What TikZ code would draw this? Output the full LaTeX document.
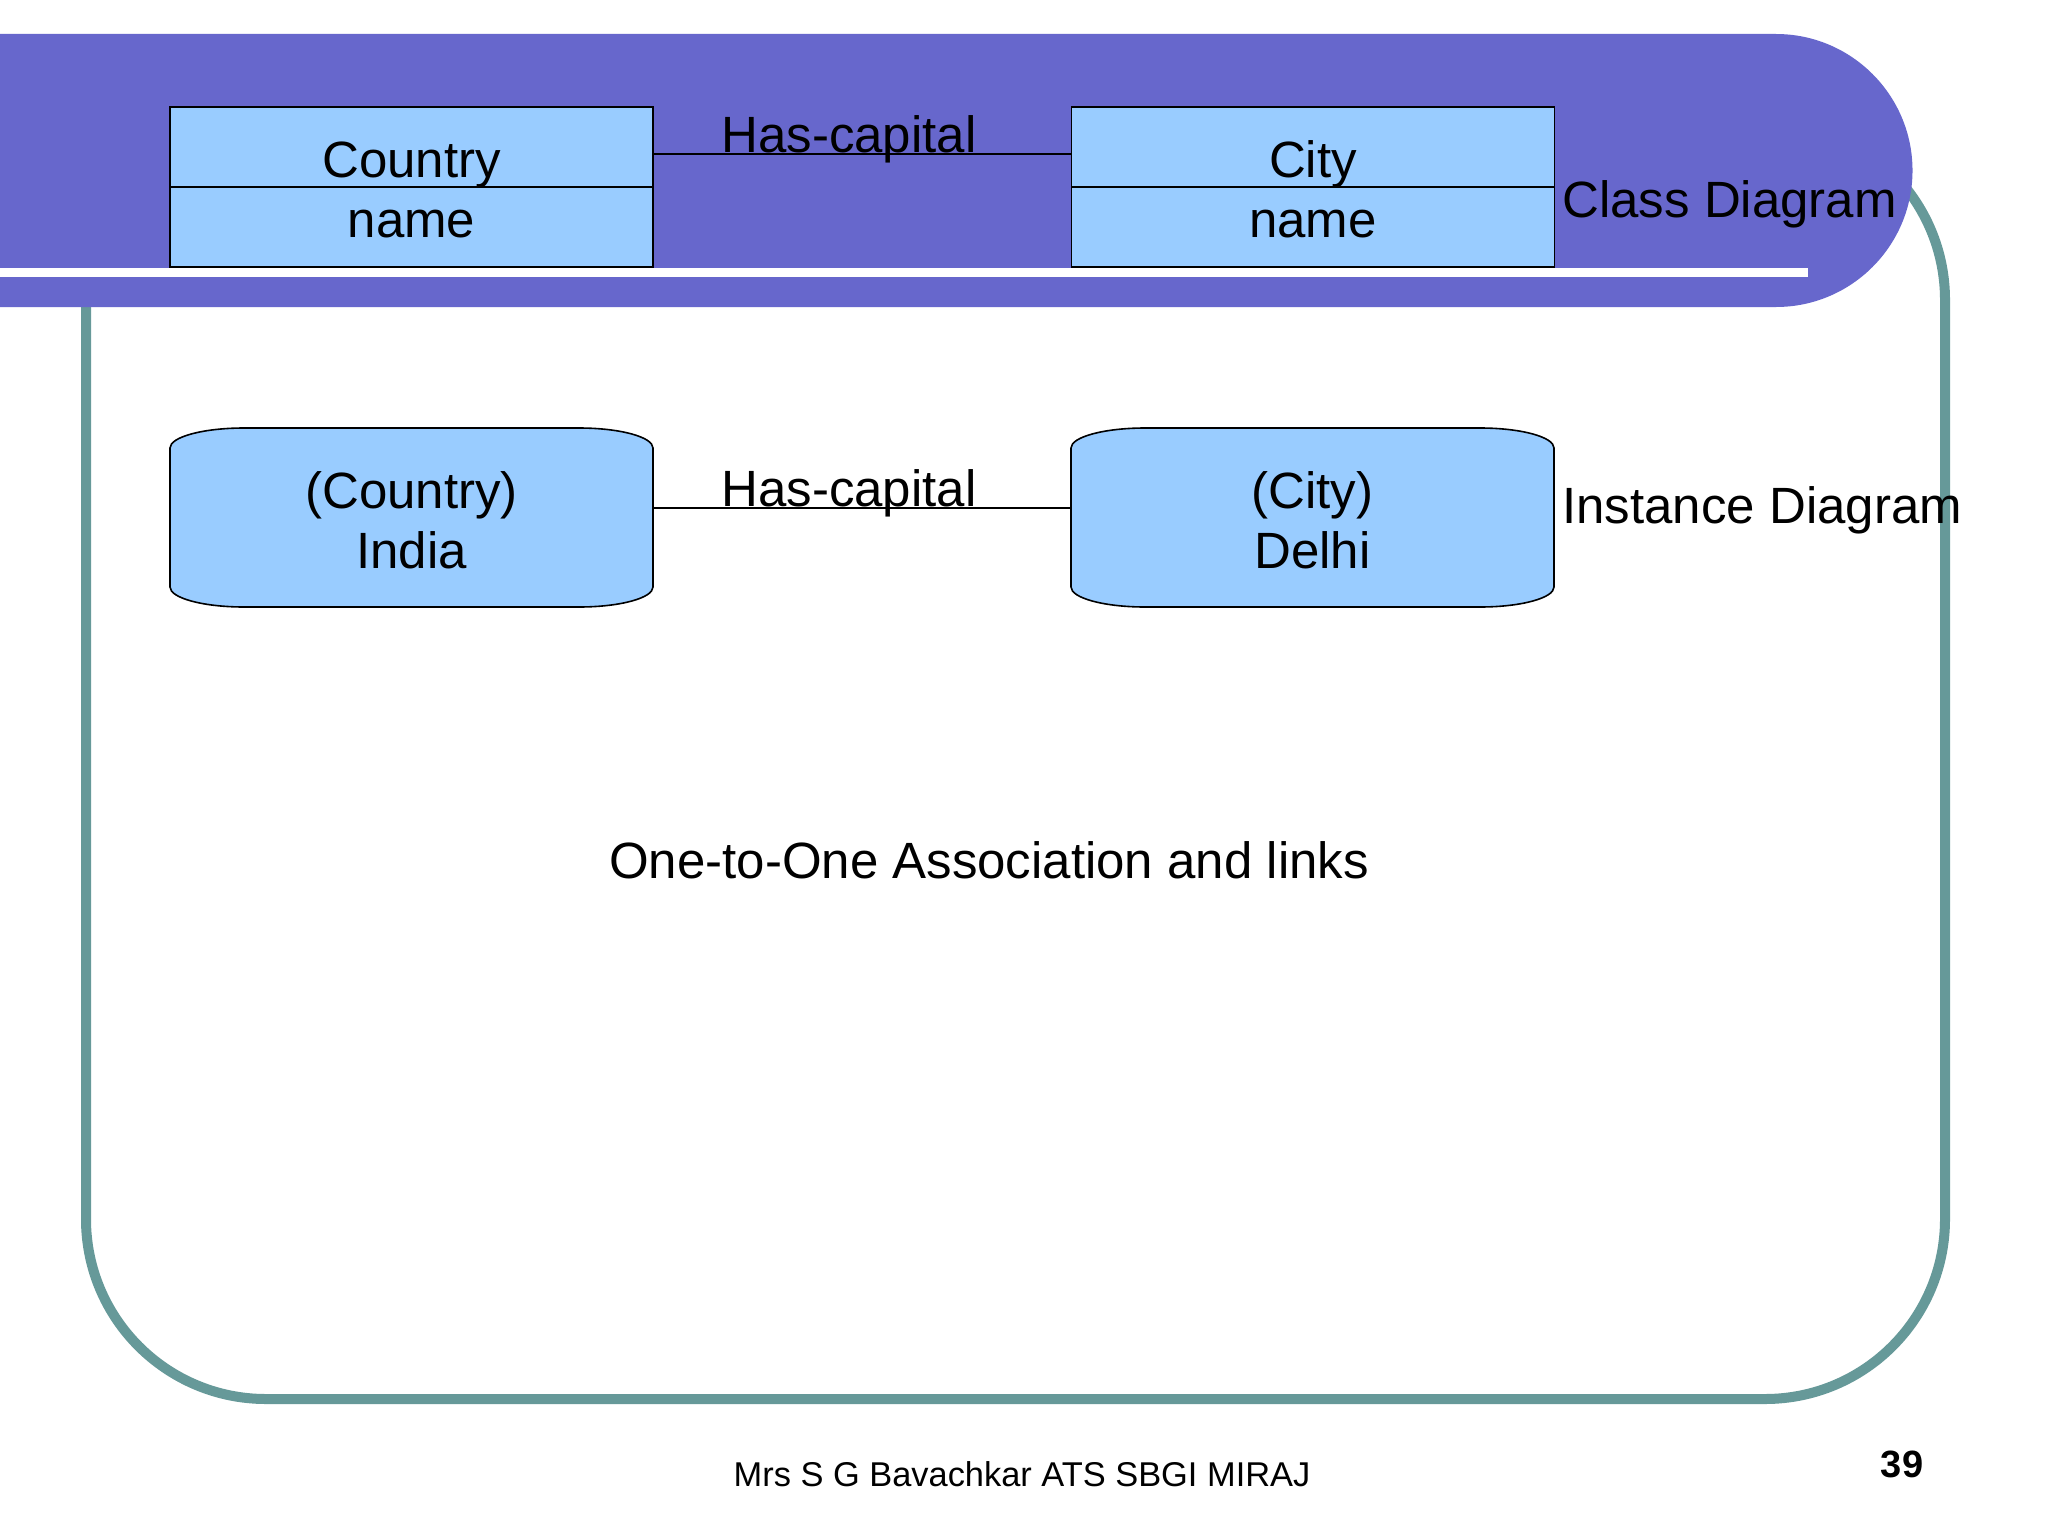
\documentclass[tikz,border=0pt]{standalone}
\usepackage{fontspec}
\setmainfont{Liberation Sans}
\definecolor{bannerblue}{RGB}{103,103,204}
\definecolor{boxblue}{RGB}{153,204,255}
\definecolor{frameteal}{RGB}{102,153,153}
\begin{document}
\begin{tikzpicture}[x=0.5pt,y=-0.5pt,
  frame/.style={draw=frameteal, line width=5pt, rounded corners=90pt},
  clsbox/.style={draw=black, fill=boxblue, line width=0.8pt, minimum width=241.5pt, minimum height=40pt, inner sep=0pt},
  instshape/.style={draw=black, fill=boxblue, line width=0.8pt},
  instbox/.style={draw=none, minimum width=241.5pt, minimum height=89.5pt, inner sep=0pt},
  lbl/.style={font=\fontsize{25.5}{30}\selectfont, inner sep=0pt, anchor=base},
  conn/.style={draw=black, line width=0.8pt}]
\useasboundingbox (0,0) rectangle (2048,1536);
\fill[white] (0,0) rectangle (2048,1536);
% teal frame
\draw[frame] (86,120) rectangle (1945,1399);
% banner
\fill[bannerblue] (0,34) -- (1776,34) .. controls (1851.3,34) and (1912.5,95.2) .. (1912.5,170.5)
  .. controls (1912.5,245.8) and (1851.3,307) .. (1776,307) -- (0,307) -- cycle;
\fill[white] (0,268) rectangle (1808,277);
% class boxes
\node[clsbox] (countryT) at (411.5,147) {};
\node[clsbox] (countryB) at (411.5,227) {};
\node[clsbox] (cityT) at (1313,147) {};
\node[clsbox] (cityB) at (1313,227) {};
\node[lbl] (t1) at (411.5,177) {Country};
\node[lbl] (t2) at (411.5,237) {name};
\node[lbl] (t3) at (1313,177) {City};
\node[lbl] (t4) at (1313,237) {name};
\draw[conn] ([yshift=-3.5pt]countryT.east) -- ([yshift=-3.5pt]cityT.west);
\node[lbl] (hc1) at (849,152) {Has-capital};
\node[lbl, anchor=base west] (cd) at (1562,217) {Class Diagram};
% instance boxes
\foreach \xl in {170,1071}{
  \draw[instshape] (\xl,448) -- (\xl,587) .. controls (\xl,598) and (\xl+33,607) .. (\xl+74,607)
    -- (\xl+409,607) .. controls (\xl+450,607) and (\xl+483,598) .. (\xl+483,587)
    -- (\xl+483,448) .. controls (\xl+483,437) and (\xl+450,428) .. (\xl+409,428)
    -- (\xl+74,428) .. controls (\xl+33,428) and (\xl,437) .. (\xl,448) -- cycle;
}
\node[instbox] (ci) at (411.5,517.5) {};
\node[instbox] (cy) at (1312.5,517.5) {};
\node[lbl] (i1) at (411.5,508) {(Country)};
\node[lbl] (i2) at (411.5,568) {India};
\node[lbl] (i3) at (1312.5,508) {(City)};
\node[lbl] (i4) at (1312.5,568) {Delhi};
\draw[conn] ([yshift=4.75pt]ci.east) -- ([yshift=4.75pt]cy.west);
\node[lbl] (hc2) at (849,506) {Has-capital};
\node[lbl, anchor=base west] (idg) at (1562,523) {Instance Diagram};
% caption and footer
\node[lbl] (title) at (989,878) {One-to-One Association and links};
\node[lbl, font=\fontsize{17.2}{20}\selectfont] (footer) at (1022,1486) {Mrs S G Bavachkar ATS SBGI MIRAJ};
\node[lbl, font=\fontsize{19}{22}\selectfont\bfseries] (pageno) at (1902,1477) {39};
\end{tikzpicture}
\end{document}
